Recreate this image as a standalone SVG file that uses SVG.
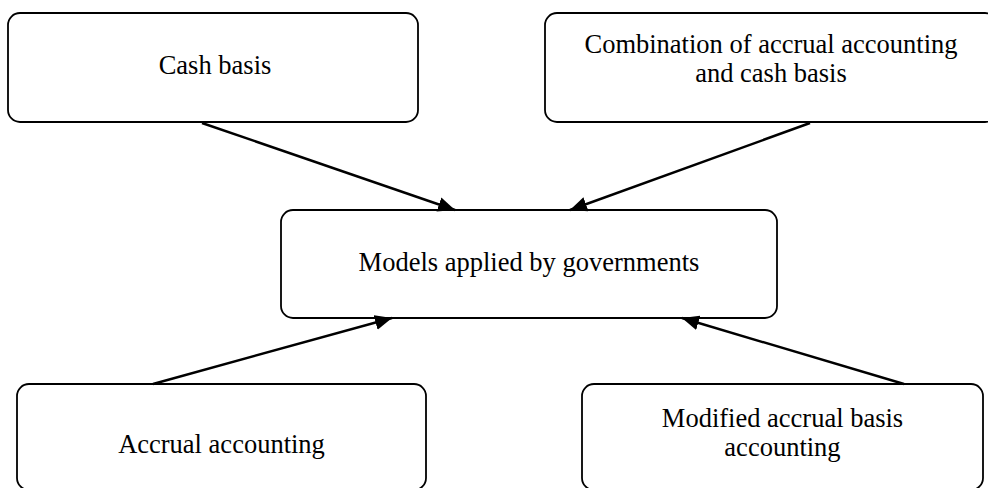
<svg xmlns="http://www.w3.org/2000/svg" width="988" height="488" viewBox="0 0 988 488">
<style>
.box{fill:#fff;stroke:#000;stroke-width:1.8}
.lbl{font-family:"Liberation Serif","Times New Roman",serif;font-size:26.5px;fill:#000;text-anchor:middle}
.conn line{stroke:#000;stroke-width:2.4}
</style>
<defs>
<marker id="arr" markerUnits="userSpaceOnUse" markerWidth="18" markerHeight="16" refX="17" refY="7.5" orient="auto">
<path d="M0,0 L17,7.5 L0,15 Z" fill="#000"/>
</marker>
</defs>
<rect width="988" height="488" fill="#fff"/>
<g id="cash">
<rect class="box" x="8" y="13" width="410" height="109" rx="12"/>
<text class="lbl" x="215" y="74">Cash basis</text>
</g>
<g id="combination">
<rect class="box" x="545" y="13" width="452" height="109" rx="12"/>
<text class="lbl" x="771" y="53">Combination of accrual accounting</text>
<text class="lbl" x="771" y="82">and cash basis</text>
</g>
<g id="models">
<rect class="box" x="281" y="210" width="496" height="108" rx="12"/>
<text class="lbl" x="529" y="271">Models applied by governments</text>
</g>
<g id="accrual">
<rect class="box" x="17" y="384" width="409" height="106" rx="12"/>
<text class="lbl" x="221.5" y="453">Accrual accounting</text>
</g>
<g id="modified">
<rect class="box" x="582" y="384" width="401" height="106" rx="12"/>
<text class="lbl" x="782.5" y="427">Modified accrual basis</text>
<text class="lbl" x="782.5" y="456">accounting</text>
</g>
<g id="connectors" class="conn">
<line x1="202" y1="123" x2="455" y2="210" marker-end="url(#arr)"/>
<line x1="810" y1="123" x2="570" y2="210" marker-end="url(#arr)"/>
<line x1="153" y1="384" x2="392" y2="318" marker-end="url(#arr)"/>
<line x1="904" y1="384" x2="682" y2="318" marker-end="url(#arr)"/>
</g>
</svg>
